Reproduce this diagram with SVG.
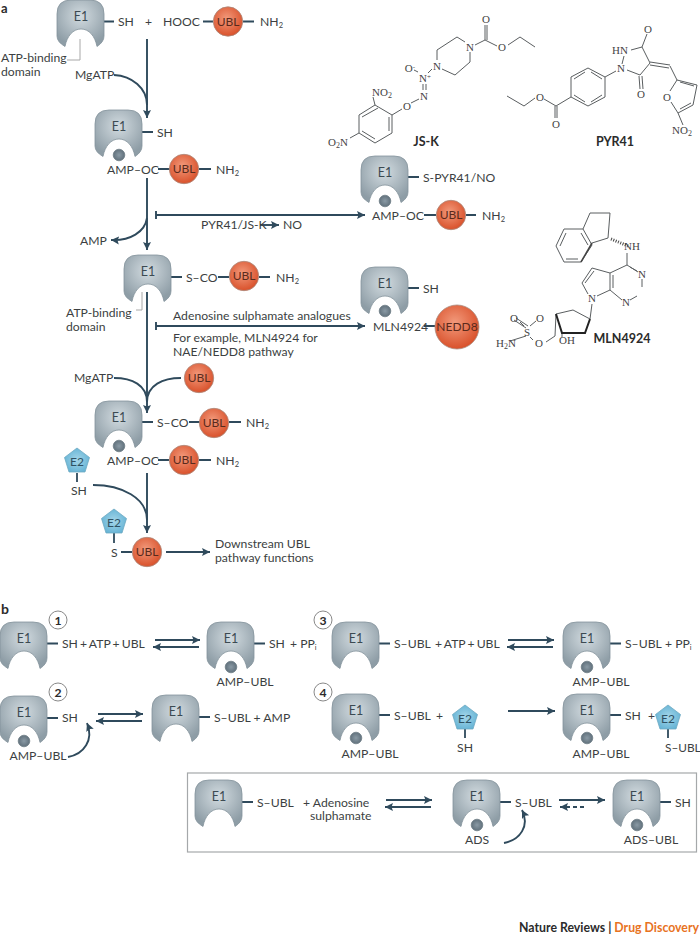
<svg xmlns="http://www.w3.org/2000/svg" width="700" height="935" viewBox="0 0 700 935">
<style>
text{font-family:"Lato","Open Sans","Liberation Sans",sans-serif;font-size:12.2px;fill:#3c3f42}
.b{font-weight:700;fill:#2b2b2b}
.c{fill:none;stroke:#2f4a5c;stroke-width:1.9}
.a{marker-end:url(#ah)}
.t{fill:none;stroke:#2f4a5c;stroke-width:1.8}
.g{fill:none;stroke:#a8a8a8;stroke-width:1}
.m{fill:none;stroke:#5a5e60;stroke-width:1}
.n{font-family:"Liberation Serif",serif;font-size:11px;fill:#444;text-anchor:middle}
.u{font-size:12px;text-anchor:middle;fill:#5a2a1c}
.s{font-size:7.5px}
.mid{text-anchor:middle}
</style>
<defs>
<radialGradient id="ge" cx="50%" cy="35%" r="65%"><stop offset="0" stop-color="#d2dbe0"/><stop offset="1" stop-color="#8e9da6"/></radialGradient>
<radialGradient id="gu" cx="45%" cy="40%" r="60%"><stop offset="0" stop-color="#f29a7c"/><stop offset="1" stop-color="#d9512b"/></radialGradient>
<radialGradient id="gp" cx="50%" cy="50%" r="60%"><stop offset="0" stop-color="#a5d6e9"/><stop offset="1" stop-color="#5fb0d3"/></radialGradient>
<radialGradient id="gb" cx="50%" cy="50%" r="55%"><stop offset="0" stop-color="#8a9aa5"/><stop offset="1" stop-color="#5d6d78"/></radialGradient>
<marker id="ah" markerUnits="userSpaceOnUse" markerWidth="10" markerHeight="10" refX="8" refY="4.5" orient="auto"><path d="M0 0.5L8 4.500L0 8.500L1.500 4.500Z" fill="#2f4a5c"/></marker>
<g id="e1"><path d="M14 0H33Q47 0 47 14V36Q47 42 40 46.500C38 36 32 29 24 29C16 29 10 36 8 46.500Q0 42 0 36V14Q0 0 14 0Z" fill="url(#ge)" stroke="#84939c" stroke-width=".8"/><text x="24" y="20.500" class="mid" style="font-size:12.500px;fill:#3c4a52">E1</text></g>
<g id="bead"><circle r="5.800" fill="url(#gb)" stroke="#6f7d86" stroke-width=".8"/></g>
<g id="ubl"><circle r="14.700" fill="url(#gu)" stroke="#a98a7e" stroke-width=".8"/><text y="4.300" class="u">UBL</text></g>
<g id="e2"><path d="M0-13L12.500-3.500L8 11H-8L-12.500-3.500Z" fill="url(#gp)" stroke="#6fa9c2" stroke-width=".8"/><text y="4.500" class="mid" style="font-size:12px;fill:#2f5264">E2</text></g>
<g id="num"><circle r="9" fill="#fff" stroke="#7a7a7a" stroke-width=".9"/></g>
</defs>

<text x="1" y="12.500" class="b" style="font-size:13px">a</text>
<text x="1" y="614" class="b" style="font-size:14px">b</text>

<g id="connectors">
<path class="c a" d="M147 39V118"/>
<path class="c" d="M114 75C132 76 147 88 147 105"/>
<path class="g" d="M80 39V60H67"/>
<path class="c a" d="M147 178V250"/>
<path class="c a" d="M147 218C145 232 130 241 111 240"/>
<path class="c a" d="M156 215H365"/><path class="c" d="M156 211V219"/>
<path class="c a" d="M260 225H279"/>
<path class="c a" d="M147 292V413"/>
<path class="g" d="M142 292V310H136"/>
<path class="c a" d="M156 326H365"/><path class="c" d="M156 322V330"/>
<path class="c" d="M114 378C132 378 147 385 147 402"/>
<path class="c" d="M181 378C163 378 147 385 147 402"/>
<path class="c a" d="M147 473V533"/>
<path class="c" d="M93 485C122 485 147 498 147 520"/>
<path class="c a" d="M166 552H210"/>
<path class="t" d="M104 21.500H114M203 21.500H213M243 21.500H254M142 132H153M158 169H170M199 169H211M171 277H182M218 277H229M259 277H270M408 177H419M424 215H436M466 215H476M408 288H419M424 326H435M142 422H153M189 422H200M229 422H241M158 460H169M199 460H211M77 473V482M114 533V543M121 552H132"/>
<path class="t" d="M47 643.500H58M254 643.500H265M47 718H58M199 717H210M379 643.500H390M610 643.500H621M379 715H390M610 715H621M465 729V738M668 729V738M242 802H253M500 802H511M660 802H671"/>
<path class="c a" d="M155 640H200"/><path class="c a" d="M199 647H153"/>
<path class="c a" d="M98 714H143"/><path class="c a" d="M142 721H96"/>
<path class="c a" d="M68 757C84 754 94 740 87 723"/>
<path class="c a" d="M508 640H554"/><path class="c a" d="M553 647H507"/>
<path class="c a" d="M508 711H555"/>
<path class="c a" d="M386 800H432"/><path class="c a" d="M431 807H385"/>
<path class="c a" d="M559 800H605"/><path class="c a" d="M584 807H560" stroke-dasharray="4 3"/>
<path class="c a" d="M504 843C520 840 530 826 522 810"/>
</g>

<g id="n1"><use href="#e1" x="57" y="0"/><text x="118" y="26">SH</text></g>
<text x="145" y="26">+</text>
<g id="n2"><text x="163" y="26">HOOC</text><use href="#ubl" x="228" y="21.500"/><text x="260" y="26">NH<tspan class="s" dy="2">2</tspan></text></g>
<text x="1" y="61.500">ATP-binding</text><text x="1" y="75.500">domain</text>
<text x="75" y="78.500">MgATP</text>

<g id="n3"><use href="#e1" x="95" y="110"/><use href="#bead" x="119" y="155"/><text x="157" y="136.500">SH</text><text x="107" y="173.500">AMP–OC</text><use href="#ubl" x="184" y="169"/><text x="216" y="173.500">NH<tspan class="s" dy="2">2</tspan></text></g>
<text x="201" y="229">PYR41/JS-K</text><text x="283" y="229">NO</text>
<text x="80" y="244.500">AMP</text>
<g id="n4"><use href="#e1" x="124" y="255"/><text x="186" y="281.500">S–CO</text><use href="#ubl" x="244" y="276"/><text x="276" y="281.500">NH<tspan class="s" dy="2">2</tspan></text></g>
<g id="n5"><use href="#e1" x="361" y="156"/><use href="#bead" x="385" y="201"/><text x="423" y="181.500">S-PYR41/NO</text><text x="372" y="219.500">AMP–OC</text><use href="#ubl" x="451" y="215"/><text x="482" y="219.500">NH<tspan class="s" dy="2">2</tspan></text></g>
<text x="66" y="316.500">ATP-binding</text><text x="66" y="330.500">domain</text>
<text x="173" y="319.500">Adenosine sulphamate analogues</text>
<text x="173" y="341.500">For example, MLN4924 for</text>
<text x="173" y="355.500">NAE/NEDD8 pathway</text>
<g id="n6"><use href="#e1" x="361" y="267"/><use href="#bead" x="385" y="311"/><text x="423" y="292.500">SH</text><text x="373" y="330.500">MLN4924</text><circle cx="457" cy="327" r="22" fill="url(#gu)" stroke="#a98a7e" stroke-width=".8"/><text x="457" y="331.300" class="u">NEDD8</text></g>
<text x="74" y="381.500">MgATP</text>
<g id="n7"><use href="#ubl" x="199" y="378"/></g>
<g id="n8"><use href="#e1" x="95" y="401"/><use href="#bead" x="119" y="446"/><text x="157" y="426.500">S–CO</text><use href="#ubl" x="214" y="423"/><text x="246" y="426.500">NH<tspan class="s" dy="2">2</tspan></text><text x="107" y="464.500">AMP–OC</text><use href="#ubl" x="184" y="460"/><text x="216" y="464.500">NH<tspan class="s" dy="2">2</tspan></text></g>
<g id="n9"><use href="#e2" x="77" y="461"/><text x="71" y="495">SH</text></g>
<g id="n10"><use href="#e2" x="114" y="522"/><text x="111" y="556.500">S</text><use href="#ubl" x="147" y="552"/></g>
<text x="215" y="547.500">Downstream UBL</text><text x="215" y="561.500">pathway functions</text>

<g id="chem">
<path class="m" d="M485 25V40M487 25V40M475 45L485 40L497 46M508 45L520 37L535 47M465 42L457 37L437 50V60M442 69L455 75L470 62V52M432 69L428 73M423 84V90M426 84V90M419 99L411 103M402 109L392 115L375 105L359 115V133L375 143L392 133V115M378 108L362 117M362 131L375 139M389 131V117M375 105L373 97M359 133L350 138M418 72L414 70"/>
<path class="m" d="M588 68L605 77V97L588 106L571 97V77ZM591 72L602 79M602 95L591 102M585 102L574 95M574 79L585 72M605 77L616 71M622 64L624 56M631 50L642 47L650 63L640 75L627 70M642 47L647 34M639 76L640 89M642 76L643 89M650 62L670 65M650 65L669 68M670 66L677 80L697 85L693 105L678 113L671 102M670 91L677 80M680 82L694 86M691 103L680 109M678 113L683 125M571 97L556 106M555 106V118M557 106V118M556 106L544 99M535 98L524 106L507 96"/>
<path class="m" d="M556 246L564 229H583L592 245L581 262H564ZM560 246L566 233M581 233L588 245M578 259H566M583 229L590 213H610L608 238L592 243M627 253V265M627 265L638 272M642 279V287M637 296L630 300M622 300L610 290V273L627 265M613 288V275M630 267L637 271M610 273L592 268L582 283L588 294M597 296L610 290M594 271L585 283M592 304L590 319L573 310L556 314M556 314L555 336L546 342M562 333V337M533 340L530 337M524 326L520 322M530 326L536 321M526 328L514 320M528 326L516 318M526 336L510 341"/>
<path d="M556 314L562 333H585L590 319" fill="none" stroke="#222" stroke-width="2"/>
<path d="M611 239L628 246" fill="none" stroke="#444" stroke-width="3" stroke-dasharray="1 1.500"/>
<path d="M581 262L592 243" fill="none" stroke="#444" stroke-width="1.500"/>
</g>
<g id="chem-labels">
<text class="n" x="486" y="23">O</text><text class="n" x="470" y="51">N</text><text class="n" x="502" y="51">O</text><text class="n" x="437" y="70">N</text><text class="n" x="425" y="82">N<tspan dy="-3" font-size="7">+</tspan></text><text class="n" x="410" y="72">O<tspan dy="-3" font-size="7">-</tspan></text><text class="n" x="424" y="100">N</text><text class="n" x="407" y="110">O</text><text class="n" x="382" y="96">NO<tspan dy="1.500" font-size="8">2</tspan></text><text class="n" x="338" y="146">O<tspan dy="1.500" font-size="8">2</tspan><tspan dy="-1.500">N</tspan></text>
<text class="n" x="620" y="54">HN</text><text class="n" x="621" y="72">N</text><text class="n" x="648" y="33">O</text><text class="n" x="641" y="98">O</text><text class="n" x="667" y="101">O</text><text class="n" x="682" y="134">NO<tspan dy="1.500" font-size="8">2</tspan></text><text class="n" x="556" y="128">O</text><text class="n" x="540" y="101">O</text>
<text class="n" x="632" y="250">NH</text><text class="n" x="642" y="278">N</text><text class="n" x="626" y="306">N</text><text class="n" x="592" y="302">N</text><text class="n" x="567" y="344">OH</text><text class="n" x="539" y="347">O</text><text class="n" x="527" y="336">S</text><text class="n" x="514" y="322">O</text><text class="n" x="540" y="322">O</text><text class="n" x="506" y="347">H<tspan dy="1.500" font-size="8">2</tspan><tspan dy="-1.500">N</tspan></text>
<text class="b mid" x="426" y="146" style="font-size:12.500px">JS-K</text><text class="b mid" x="615" y="146" style="font-size:12.500px">PYR41</text><text class="b mid" x="622" y="343" style="font-size:12.500px">MLN4924</text>
</g>

<g id="r1"><use href="#e1" x="0" y="622"/><use href="#num" x="58" y="620"/><text x="58" y="624.500" class="b mid">1</text><text x="62" y="648" style="word-spacing:-1px">SH + ATP + UBL</text></g>
<g id="r1p"><use href="#e1" x="207" y="622"/><use href="#bead" x="231" y="667"/><text x="269" y="648">SH</text><text x="290" y="648">+ PP<tspan class="s" dy="2">i</tspan></text><text x="245" y="685.500" class="mid">AMP–UBL</text></g>
<g id="r2"><use href="#e1" x="0" y="696"/><use href="#bead" x="24" y="741"/><use href="#num" x="58" y="692"/><text x="58" y="696.500" class="b mid">2</text><text x="62" y="721.500">SH</text><text x="38" y="759.500" class="mid">AMP–UBL</text></g>
<g id="r2p"><use href="#e1" x="152" y="695"/><text x="214" y="721.500">S–UBL + AMP</text></g>
<g id="r3"><use href="#e1" x="332" y="622"/><use href="#num" x="323" y="620"/><text x="323" y="624.500" class="b mid">3</text><text x="394" y="648">S–UBL</text><text x="435" y="648" style="word-spacing:-1px">+ ATP + UBL</text></g>
<g id="r3p"><use href="#e1" x="563" y="622"/><use href="#bead" x="587" y="667"/><text x="625" y="648">S–UBL</text><text x="665" y="648">+ PP<tspan class="s" dy="2">i</tspan></text><text x="601" y="685.500" class="mid">AMP–UBL</text></g>
<g id="r4"><use href="#e1" x="332" y="694"/><use href="#bead" x="356" y="738"/><use href="#num" x="323" y="692"/><text x="323" y="696.500" class="b mid">4</text><text x="394" y="719.500">S–UBL</text><text x="436" y="719.500">+</text><text x="370" y="757.500" class="mid">AMP–UBL</text></g>
<g id="r4e2"><use href="#e2" x="465" y="718"/><text x="465" y="751.500" class="mid">SH</text></g>
<g id="r4p"><use href="#e1" x="563" y="694"/><use href="#bead" x="587" y="738"/><text x="625" y="719.500">SH</text><text x="648" y="719.500">+</text><text x="601" y="757.500" class="mid">AMP–UBL</text></g>
<g id="r4pe2"><use href="#e2" x="668" y="718"/><text x="665" y="751.500" style="font-size:11.800px">S–UBL</text></g>

<g id="box"><rect x="187.500" y="773" width="509" height="79" fill="none" stroke="#a5a8aa" stroke-width="1.200"/></g>
<g id="s1"><use href="#e1" x="195" y="780"/><text x="257" y="806.500">S–UBL</text><text x="303" y="806.500">+ Adenosine</text><text x="310" y="820">sulphamate</text></g>
<g id="s2"><use href="#e1" x="453" y="780"/><use href="#bead" x="477" y="825"/><text x="515" y="806.500">S–UBL</text><text x="465" y="843.500">ADS</text></g>
<g id="s3"><use href="#e1" x="613" y="780"/><use href="#bead" x="637" y="825"/><text x="675" y="806.500">SH</text><text x="651" y="843.500" class="mid">ADS–UBL</text></g>

<text x="699" y="932" text-anchor="end" class="b" style="font-size:12.300px">Nature Reviews | <tspan style="fill:#e8731f">Drug Discovery</tspan></text>
</svg>
